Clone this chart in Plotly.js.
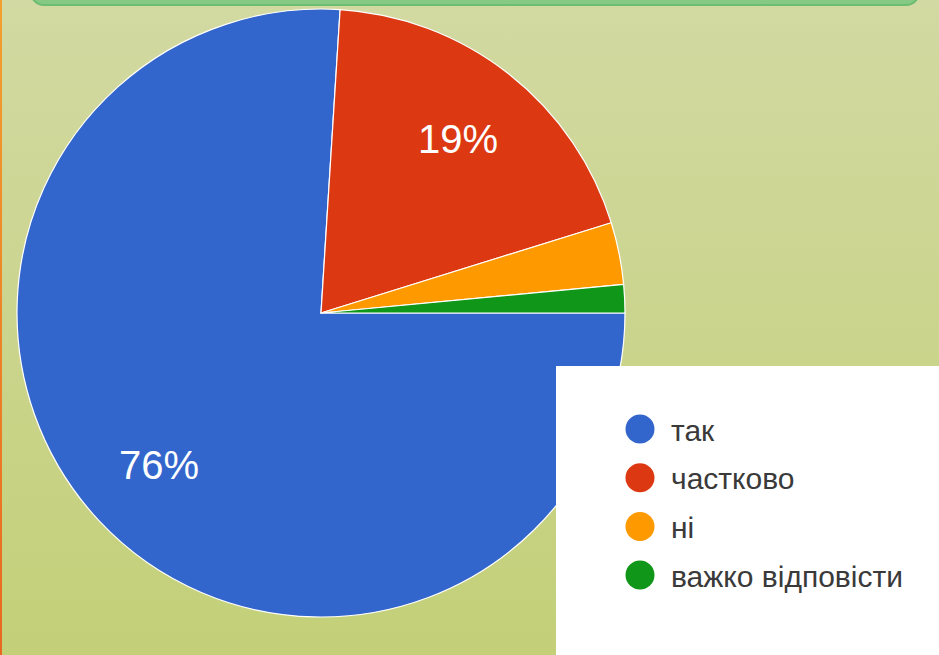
<!DOCTYPE html>
<html><head><meta charset="utf-8">
<script src="https://cdn.plot.ly/plotly-3.0.1.min.js"></script>
<style>
html,body{margin:0;padding:0;width:939px;height:655px;overflow:hidden;}
body{background:linear-gradient(to bottom,#d2d9a2 0%,#c3d078 100%);position:relative;}
#chart{position:absolute;left:0;top:0;width:939px;height:655px;}
#topbar{position:absolute;left:30px;top:-40px;width:886px;height:42px;border-radius:14px;background:#86c984;border:2px solid #6cbd72;}
#leftbar{position:absolute;left:0;top:0;width:2px;height:655px;background:linear-gradient(#f2a030,#e86820);}
</style></head><body>
<div id="chart"></div><div id="topbar"></div><div id="leftbar"></div>
<script>
const categories = ["так", "частково", "ні", "важко відповісти"];
const shares = [76, 19.2, 3.3, 1.5];
const colors = ["#3366cc", "#dc3912", "#ff9900", "#109618"];

const total = shares.reduce((a, b) => a + b, 0);
const legendIdx = categories.map((c, i) => i);

const FONT = "Arial, 'Liberation Sans', sans-serif";
const W = 939, H = 655;
const CX = 321, CY = 313, R = 304;       // pie geometry (pixels)
const START_DEG = 90;                    // first slice starts at 3 o'clock, clockwise
const LABEL_R = 0.73;                    // label radius as a fraction of R
const MIN_LABEL_SHARE = 0.05;

const pie = {
  type: "pie",
  labels: categories,
  values: shares,
  textinfo: "none",
  marker: {colors: colors, line: {color: "#ffffff", width: 1.2}},
  sort: false,
  direction: "clockwise",
  rotation: START_DEG,
  showlegend: false,
  hoverinfo: "skip",
  domain: {x: [(CX - R) / W, (CX + R) / W], y: [(H - CY - R) / H, (H - CY + R) / H]}
};

// invisible helper trace establishing the legend axes
const helper = {
  type: "scatter", mode: "markers",
  x: legendIdx.map(() => 0), y: legendIdx,
  marker: {size: 1, opacity: 0},
  hoverinfo: "skip", showlegend: false
};

// percentage labels placed at each slice's mid-angle, derived from the data
let acc = 0;
const sliceLabels = [];
shares.forEach((v, i) => {
  const frac = v / total;
  const mid = (START_DEG + (acc + frac / 2) * 360) * Math.PI / 180;
  acc += frac;
  if (frac < MIN_LABEL_SHARE) return;
  const px = CX + LABEL_R * R * Math.sin(mid);
  const py = CY - LABEL_R * R * Math.cos(mid);
  sliceLabels.push({
    xref: "paper", yref: "paper", x: px / W, y: 1 - py / H,
    xanchor: "center", yanchor: "middle", showarrow: false,
    text: Math.round(frac * 100) + "%",
    font: {family: FONT, size: 40, color: "#ffffff"}
  });
});

const LEG_Y0 = 429, LEG_DY = 48.7, LEG_X0 = 640, LEG_DX = 29;

const shapes = [{
  type: "rect", xref: "paper", yref: "paper",
  x0: 556 / W, x1: 1, y0: 0, y1: (H - 366) / H,
  fillcolor: "#ffffff", line: {width: 0}, layer: "above"
}].concat(legendIdx.map(i => ({
  type: "circle", layer: "above",
  xref: "x", yref: "y",
  xsizemode: "pixel", xanchor: 0, x0: -14.5, x1: 14.5,
  ysizemode: "pixel", yanchor: i, y0: -14.5, y1: 14.5,
  fillcolor: colors[i], line: {width: 0}
})));

const legendText = legendIdx.map(i => ({
  xref: "x", yref: "y", x: 1, y: i,
  xanchor: "left", yanchor: "middle", yshift: -1,
  text: categories[i], showarrow: false,
  font: {family: FONT, size: 30, color: "#3a3a3a"}
}));

const layout = {
  width: W, height: H,
  margin: {l: 0, r: 0, t: 0, b: 0},
  paper_bgcolor: "rgba(0,0,0,0)",
  plot_bgcolor: "rgba(0,0,0,0)",
  showlegend: false,
  xaxis: {domain: [556 / W, 1], range: [-(LEG_X0 - 556) / LEG_DX, (939 - LEG_X0) / LEG_DX], visible: false, fixedrange: true},
  yaxis: {domain: [0, (H - 366) / H], range: [(655 - LEG_Y0) / LEG_DY, -(LEG_Y0 - 366) / LEG_DY], visible: false, fixedrange: true},
  shapes: shapes,
  annotations: sliceLabels.concat(legendText)
};

Plotly.newPlot("chart", [pie, helper], layout, {displayModeBar: false, staticPlot: true});
</script>
</body></html>
